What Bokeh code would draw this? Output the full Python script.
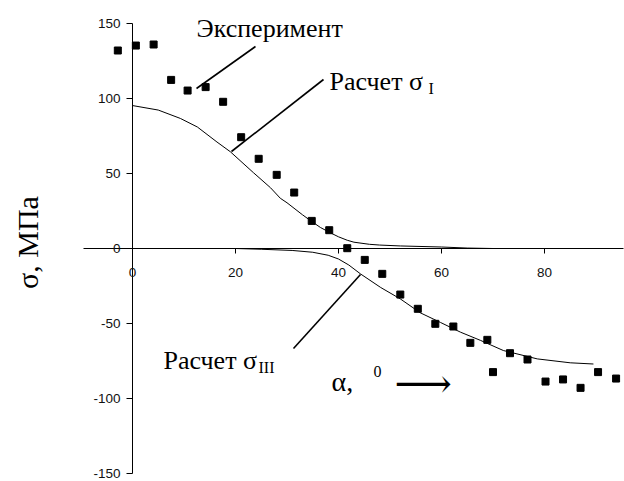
import math
from bokeh.plotting import figure
from bokeh.models import Range1d
from bokeh.core.properties import value
from bokeh.embed import file_html
from bokeh.resources import INLINE

# ---------------- data ----------------
exp_alpha = [-2.85, 0.65, 4.1, 7.5, 10.7, 14.2, 17.6, 21.1, 24.5, 28.0,
             31.4, 34.8, 38.2, 41.7, 45.1, 48.5, 52.0, 55.4, 58.8, 62.3,
             65.6, 68.9, 70.0, 73.3, 76.7, 80.2, 83.6, 87.0, 90.4, 93.9]
exp_sigma = [132, 135.3, 136, 112.4, 105.3, 107.6, 97.8, 74.2, 59.8, 49.1,
             37.3, 18.4, 12.2, 0.2, -7.6, -16.9, -30.7, -40.2, -50.2, -52,
             -62.9, -60.9, -82.4, -69.8, -74, -88.7, -87.3, -92.9, -82.4, -86.7]

s1_alpha = [0, 5, 9.3, 12.6, 16.4, 19, 23.5, 26.8, 28.7, 30.0, 33.0, 34.6, 36.5,
            38.4, 40.0, 41.7, 43.0, 46.0, 48.0, 52.0, 60.0, 65.0, 70.0, 90.0]
s1_sigma = [95.3, 92.3, 86.7, 81, 71, 64.5, 50.5, 40.5, 33.5, 30.5, 22.5, 18.5, 14,
            10.5, 7.8, 5.5, 4.2, 2.8, 2.3, 1.7, 1.0, 0.3, 0.0, 0.0]

s3_alpha = [0, 20, 25, 31, 35, 38, 40, 42, 44.3, 48.2, 52.0, 55.9, 59.8, 63.7,
            67.6, 72.0, 78.6, 85.0, 89.5]
s3_sigma = [0, 0, -0.5, -1.3, -2.5, -4.5, -7, -11, -17, -26, -33.6, -42.9, -49.3, -55.8,
            -61.3, -68, -73.6, -76.2, -77]

x_ticks = [0, 20, 40, 60, 80]
y_ticks = [-150, -100, -50, 0, 50, 100, 150]

label_exp = "Эксперимент"
label_s1 = "Расчет σ"
label_s1_sub = "I"
label_s3 = "Расчет σ"
label_s3_sub = "III"
y_title = "σ, МПа"
x_title = "α,"
x_title_sup = "0"
x_title_arrow = "⟶"

# ---------------- layout (pixel scale of the frame) ----------------
W, H = 624, 481
X0_PX, Y0_PX = 132, 248      # pixel of the origin
SX, SY = 5.15, 1.5           # pixels per data unit


def dx(px):
    return (px - X0_PX) / SX


def dy(py):
    return (Y0_PX - py) / SY


p = figure(width=W, height=H, output_backend="svg", toolbar_location=None,
           x_range=Range1d(dx(0), dx(W)), y_range=Range1d(dy(H), dy(0)),
           x_axis_type=None, y_axis_type=None, min_border=0)
p.grid.visible = False
p.outline_line_color = None
p.background_fill_color = "white"
p.border_fill_color = "white"

axis_col = "#000000"
# axis lines
p.segment(x0=[0], y0=[min(y_ticks)], x1=[0], y1=[max(y_ticks)], line_color=axis_col, line_width=1)
p.segment(x0=[dx(83)], y0=[0], x1=[dx(623)], y1=[0], line_color=axis_col, line_width=1)
# ticks
p.segment(x0=[dx(126)] * len(y_ticks), y0=y_ticks, x1=[0] * len(y_ticks), y1=y_ticks,
          line_color=axis_col, line_width=1)
p.segment(x0=x_ticks, y0=[0] * len(x_ticks), x1=x_ticks, y1=[-5 / SY] * len(x_ticks),
          line_color=axis_col, line_width=1)
# tick labels
p.text(x=[dx(120)] * len(y_ticks), y=y_ticks, text=[str(t) for t in y_ticks],
       text_font=value("Liberation Sans"), text_font_size="13.5px", text_color="#111111",
       text_align="right", text_baseline="middle")
p.text(x=x_ticks, y=[dy(272)] * len(x_ticks), text=[str(t) for t in x_ticks],
       text_font=value("Liberation Sans"), text_font_size="13.5px", text_color="#111111",
       text_align="center", text_baseline="middle")

# curves
p.line(s1_alpha, s1_sigma, line_color="black", line_width=1)
p.line(s3_alpha, s3_sigma, line_color="black", line_width=1)
# experiment
p.scatter(exp_alpha, exp_sigma, marker="square", size=7, color="black")

# leader lines
p.segment(x0=[dx(255), dx(323), dx(360)], y0=[dy(46), dy(79), dy(274)],
          x1=[dx(196), dx(231), dx(293)], y1=[dy(88), dy(151), dy(348)],
          line_color="black", line_width=1.6)

serif = value("Liberation Serif")
# annotations
p.text(x=[dx(196), dx(329), dx(163)], y=[dy(28), dy(81), dy(360)],
       text=[label_exp, label_s1, label_s3], text_font=serif, text_font_size="26px",
       text_color="black", text_align="left", text_baseline="alphabetic")
p.text(x=[dx(428), dx(258)], y=[dy(88), dy(367)], text=[label_s1_sub, label_s3_sub],
       text_font=serif, text_font_size="16px", text_color="black",
       text_align="left", text_baseline="alphabetic")

# axis titles
p.text(x=[dx(27)], y=[dy(242)], text=[y_title], text_font=serif, text_font_size="30px",
       text_color="black", text_align="center", text_baseline="middle", angle=math.pi / 2)
p.text(x=[dx(331)], y=[dy(381)], text=[x_title], text_font=serif, text_font_size="28px",
       text_color="black", text_align="left", text_baseline="alphabetic")
p.text(x=[dx(373)], y=[dy(371)], text=[x_title_sup], text_font=serif, text_font_size="16px",
       text_color="black", text_align="left", text_baseline="alphabetic")
p.text(x=[dx(394)], y=[dy(382)], text=[x_title_arrow], text_font=value("DejaVu Serif"),
       text_font_size="40px", text_color="black", text_align="left", text_baseline="middle")

open("out.html", "w").write(file_html(p, INLINE))
